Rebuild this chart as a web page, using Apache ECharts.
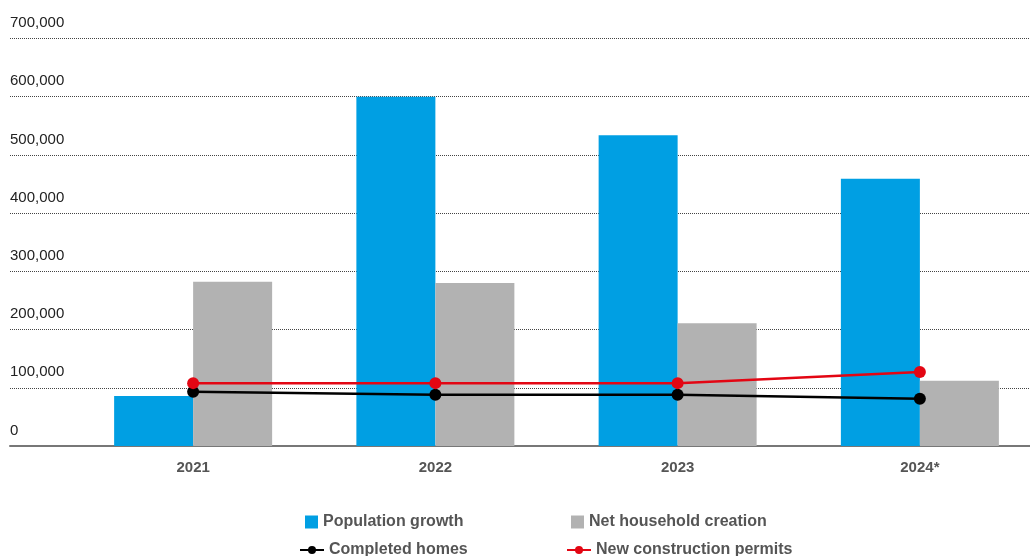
<!DOCTYPE html>
<html><head><meta charset="utf-8">
<script src="https://cdn.jsdelivr.net/npm/echarts@6/dist/echarts.min.js"></script>
<style>html,body{margin:0;padding:0;background:#fff;overflow:hidden}#c{width:1041px;height:556px}</style>
</head><body><div id="c"></div>
<script>
const categories = ['2021', '2022', '2023', '2024*'];
const populationGrowth = [86000, 600000, 534000, 459000];
const netHousehold = [282000, 280000, 211000, 112000];
const completedHomes = [93000, 88000, 88000, 81000];
const newPermits = [108000, 108000, 108000, 127000];
const yTicks = [0, 100000, 200000, 300000, 400000, 500000, 600000, 700000];

const chart = echarts.init(document.getElementById('c'));
const font = '"Liberation Sans", Arial, sans-serif';
const legendText = {fontFamily: font, fontSize: 16, fontWeight: 'bold', color: '#555'};
function leg(name, left, top, icon, w, h) {
  return {data: [name], left: left, top: top, icon: icon, itemWidth: w, itemHeight: h,
    itemGap: 0, textStyle: legendText, padding: 0, selectedMode: false};
}
chart.setOption({
  animation: false,
  grid: [
    {left: 10, right: 11, top: 38.5, bottom: 110},
    {left: 72, right: 0, top: 38.5, bottom: 110}
  ],
  xAxis: [
    {gridIndex: 0, type: 'value', min: 0, max: 1, axisLabel: {show: false}, axisTick: {show: false},
     splitLine: {show: false}, axisLine: {show: true, lineStyle: {color: '#777', width: 2}}},
    {gridIndex: 1, type: 'category', data: categories, axisLine: {show: false}, axisTick: {show: false},
     axisLabel: {margin: 14, fontFamily: font, fontSize: 15, fontWeight: 'bold', color: '#555'}}
  ],
  yAxis: [
    {gridIndex: 0, type: 'value', min: 0, max: 700000, interval: 100000,
     axisLine: {show: false}, axisTick: {show: false},
     splitLine: {show: true, lineStyle: {type: 'dotted', color: '#444', width: 1}},
     axisLabel: {inside: true, margin: 0, align: 'left', verticalAlign: 'bottom', padding: [0, 0, 8, 0],
       fontFamily: font, fontSize: 15, color: '#222',
       formatter: v => yTicks.includes(v) ? v.toLocaleString('en-US') : ''}},
    {gridIndex: 1, type: 'value', min: 0, max: 700000, interval: 100000, show: false}
  ],
  legend: [
    leg('Population growth', 305, 514, 'rect', 13, 13),
    leg('Net household creation', 571, 514, 'rect', 13, 13),
    leg('Completed homes', 299, 542, null, 24, 10),
    leg('New construction permits', 566, 542, null, 24, 10)
  ],
  series: [
    {name: 'Population growth', type: 'bar', xAxisIndex: 1, yAxisIndex: 1, data: populationGrowth,
     barWidth: 79, barGap: '0%', itemStyle: {color: '#009FE3'}},
    {name: 'Net household creation', type: 'bar', xAxisIndex: 1, yAxisIndex: 1, data: netHousehold,
     barWidth: 79, barGap: '0%', itemStyle: {color: '#B2B2B2'}},
    {name: 'Completed homes', type: 'line', xAxisIndex: 1, yAxisIndex: 1, data: completedHomes,
     symbol: 'circle', symbolSize: 12, lineStyle: {color: '#000', width: 2.5}, itemStyle: {color: '#000'}},
    {name: 'New construction permits', type: 'line', xAxisIndex: 1, yAxisIndex: 1, data: newPermits,
     symbol: 'circle', symbolSize: 12, lineStyle: {color: '#E30613', width: 2.5}, itemStyle: {color: '#E30613'}}
  ]
});
</script></body></html>
